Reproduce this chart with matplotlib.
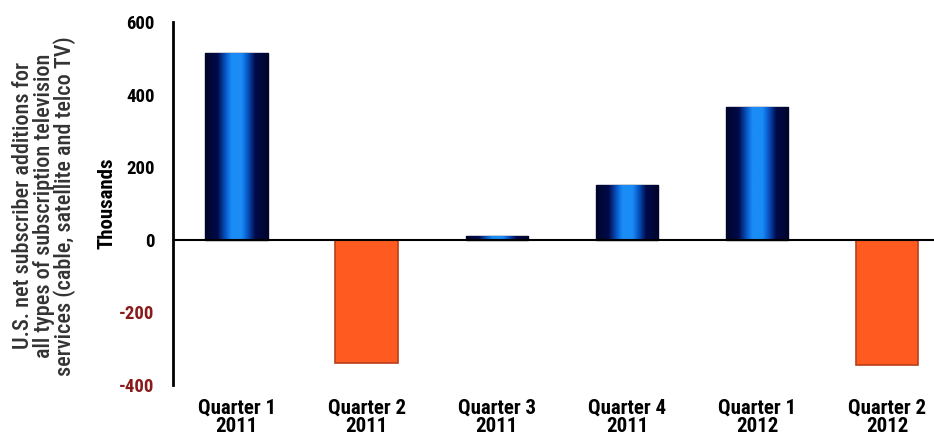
import numpy as np
import matplotlib
matplotlib.use("Agg")
import matplotlib.pyplot as plt
from matplotlib.colors import LinearSegmentedColormap
from matplotlib import font_manager

categories = ["Quarter 1\n2011", "Quarter 2\n2011", "Quarter 3\n2011",
              "Quarter 4\n2011", "Quarter 1\n2012", "Quarter 2\n2012"]
values = [515, -340, 10, 152, 365, -345]
yticks = [-400, -200, 0, 200, 400, 600]

names = {f.name for f in font_manager.fontManager.ttflist}
def pick(cands):
    for c in cands:
        if c in names:
            return [c, "DejaVu Sans"]
    return ["DejaVu Sans"]

bold_fam = pick(["Roboto Condensed", "Archivo Narrow", "Liberation Sans Narrow",
                 "PT Sans Narrow", "Barlow Condensed"])
reg_fam = pick(["Roboto Condensed", "Archivo Narrow", "Liberation Sans Narrow",
                "PT Sans Narrow"])
plt.rcParams['font.family'] = bold_fam

fig = plt.figure(figsize=(9.34, 4.38), dpi=100)
ax = fig.add_axes([0.185, 0.121, 0.815, 0.829])

x = np.arange(len(categories))
width = 0.48
cmap = LinearSegmentedColormap.from_list(
    "bl", [(0.0, "#00052a"), (0.20, "#000a4a"), (0.34, "#0a5fd0"),
           (0.42, "#1a8cf5"), (0.58, "#1a8cf5"), (0.66, "#0a5fd0"),
           (0.80, "#000a4a"), (1.0, "#00052a")])
grad = np.linspace(0, 1, 256).reshape(1, -1)

bars = ax.bar(x, values, width=width, zorder=2)
for b, v in zip(bars, values):
    if v >= 0:
        b.set_facecolor("#000a4a")
        b.set_edgecolor("#000624")
        b.set_linewidth(1.0)
        x0, y0 = b.get_x(), b.get_y()
        w, h = b.get_width(), b.get_height()
        im = ax.imshow(grad, cmap=cmap, aspect="auto",
                       extent=(x0, x0 + w, y0, y0 + h), zorder=2.5,
                       interpolation="bilinear")
        im.set_clip_path(b)
    else:
        b.set_facecolor("#ff5a1f")
        b.set_edgecolor("#b8401a")
        b.set_linewidth(1.2)

ax.axhline(0, color="black", linewidth=1.5, zorder=3)
ax.set_xlim(-0.49, 5.36)
ax.set_ylim(-400, 600)
ax.set_yticks(yticks)
ax.set_yticklabels([str(t) for t in yticks], fontsize=13.5, fontweight="bold",
                   family=bold_fam)
for lbl, t in zip(ax.get_yticklabels(), yticks):
    lbl.set_color("#8b1a1a" if t < 0 else "black")
ax.set_xticks(x)
ax.set_xticklabels(categories, fontsize=15, fontweight="bold", linespacing=0.95,
                   family=bold_fam)
ax.tick_params(axis="x", length=0, pad=10)
ax.tick_params(axis="y", length=0, pad=13)
for s in ["top", "right", "bottom"]:
    ax.spines[s].set_visible(False)
ax.spines["left"].set_linewidth(2)
ax.spines["left"].set_color("black")

ax.set_ylabel("Thousands", fontsize=15, fontweight="bold", labelpad=2,
              family=bold_fam)
fig.text(0.047, 0.53,
         "U.S. net subscriber additions for\nall types of subscription television\nservices (cable, satellite and telco TV)",
         rotation=90, ha="center", va="center", fontsize=16, linespacing=0.92,
         color="#333333", family=reg_fam, fontweight=500)

fig.savefig("out.png", dpi=100)
